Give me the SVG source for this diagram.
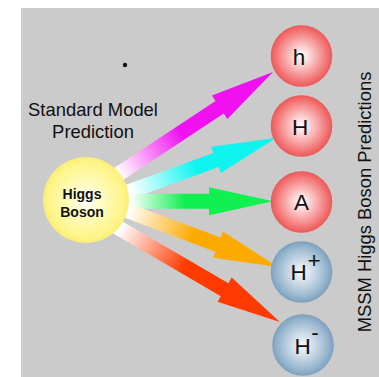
<svg xmlns="http://www.w3.org/2000/svg" width="379" height="377" viewBox="0 0 379 377">
<style>
.lbl{font-family:"Liberation Sans",Arial,sans-serif;fill:#111;}
.big{font-size:22.5px;text-anchor:middle;}
.hb{font-family:"Liberation Sans",Arial,sans-serif;font-weight:bold;font-size:14px;text-anchor:middle;fill:#111;}
</style>
<defs>
<radialGradient id="rg" cx="0.5" cy="0.5" r="0.5">
<stop offset="0" stop-color="#ffffff"/><stop offset="0.3" stop-color="#fcd0d0"/><stop offset="0.85" stop-color="#f27070"/><stop offset="1" stop-color="#ec5858"/>
</radialGradient>
<radialGradient id="bg" cx="0.5" cy="0.5" r="0.5">
<stop offset="0" stop-color="#f6f9fc"/><stop offset="0.4" stop-color="#cbdae7"/><stop offset="0.85" stop-color="#92b2cb"/><stop offset="1" stop-color="#7c9fbc"/>
</radialGradient>
<radialGradient id="yg" cx="0.5" cy="0.5" r="0.5">
<stop offset="0" stop-color="#ffffff"/><stop offset="0.35" stop-color="#fffbc4"/><stop offset="0.85" stop-color="#fff58a"/><stop offset="1" stop-color="#faee76"/>
</radialGradient>
<linearGradient id="gm" gradientUnits="userSpaceOnUse" x1="5" y1="0" x2="80" y2="0"><stop offset="0" stop-color="#ffffff"/><stop offset="1" stop-color="#f010f0"/></linearGradient>
<linearGradient id="gc" gradientUnits="userSpaceOnUse" x1="5" y1="0" x2="75" y2="0"><stop offset="0" stop-color="#ffffff"/><stop offset="1" stop-color="#10f4f0"/></linearGradient>
<linearGradient id="gg" gradientUnits="userSpaceOnUse" x1="5" y1="0" x2="60" y2="0"><stop offset="0" stop-color="#ffffff"/><stop offset="1" stop-color="#10f050"/></linearGradient>
<linearGradient id="go" gradientUnits="userSpaceOnUse" x1="5" y1="0" x2="75" y2="0"><stop offset="0" stop-color="#ffffff"/><stop offset="1" stop-color="#fcaa00"/></linearGradient>
<linearGradient id="gr" gradientUnits="userSpaceOnUse" x1="5" y1="0" x2="80" y2="0"><stop offset="0" stop-color="#ffffff"/><stop offset="1" stop-color="#ff3a00"/></linearGradient>
</defs>
<rect x="21" y="8" width="358" height="369" fill="#cbcbcb"/>
<circle cx="125" cy="65" r="2.2" fill="#111"/>
<text class="lbl" x="93" y="116" font-size="18.4" text-anchor="middle">Standard Model</text>
<text class="lbl" x="93" y="138" font-size="18.4" text-anchor="middle">Prediction</text>
<g id="connectors">
<path transform="translate(114.5,176.7) rotate(-33.45)" fill="url(#gm)" d="M0,-7.5 H126 V-14 L190,0 L126,14 V7.5 H0 Z"/>
<path transform="translate(125.8,192.9) rotate(-20.07)" fill="url(#gc)" d="M0,-7.5 H96 V-14 L160,0 L96,14 V7.5 H0 Z"/>
<path transform="translate(125,201.3) rotate(0)" fill="url(#gg)" d="M0,-7.5 H84 V-14 L148,0 L84,14 V7.5 H0 Z"/>
<path transform="translate(123.4,209.3) rotate(20.48)" fill="url(#go)" d="M0,-7.5 H101 V-14 L165,0 L101,14 V7.5 H0 Z"/>
<path transform="translate(115.8,226.2) rotate(30.26)" fill="url(#gr)" d="M0,-7.5 H126 V-14 L190,0 L126,14 V7.5 H0 Z"/>
</g>
<g id="higgs">
<circle cx="86" cy="200" r="43" fill="url(#yg)"/>
<text class="hb" x="82" y="199">Higgs</text>
<text class="hb" x="82" y="217">Boson</text>
</g>
<g id="node-h">
<circle cx="301.5" cy="56" r="30.8" fill="url(#rg)"/>
<text class="lbl big" x="299" y="65">h</text>
</g>
<g id="node-H">
<circle cx="301.5" cy="126" r="30.8" fill="url(#rg)"/>
<text class="lbl big" x="300" y="135">H</text>
</g>
<g id="node-A">
<circle cx="301.5" cy="202" r="30.8" fill="url(#rg)"/>
<text class="lbl big" x="301.5" y="210">A</text>
</g>
<g id="node-Hplus">
<circle cx="301.5" cy="272" r="30.8" fill="url(#bg)"/>
<text class="lbl big" x="298.5" y="280">H</text>
<text class="lbl big" x="314" y="268" font-size="24">+</text>
</g>
<g id="node-Hminus">
<circle cx="303" cy="345" r="30.8" fill="url(#bg)"/>
<text class="lbl big" x="302.5" y="354">H</text>
<text class="lbl big" x="315" y="340" font-size="18">-</text>
</g>
<text class="lbl" transform="translate(370.5,202) rotate(-90)" font-size="18.4" text-anchor="middle">MSSM Higgs Boson Predictions</text>
</svg>
